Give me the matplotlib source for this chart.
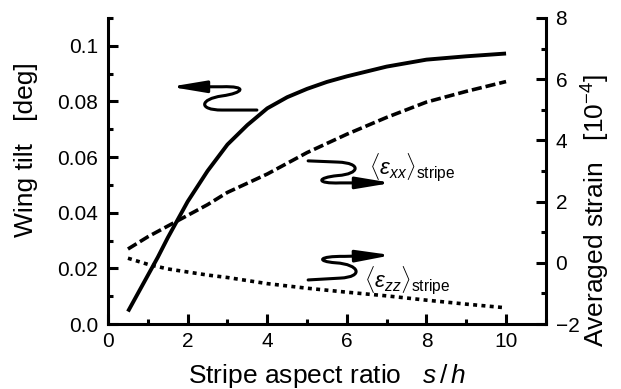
import matplotlib
matplotlib.use("Agg")
import matplotlib.pyplot as plt
from matplotlib.patches import FancyArrowPatch, ArrowStyle
from matplotlib.path import Path
from matplotlib.ticker import MultipleLocator

plt.rcParams['font.family'] = 'Liberation Sans'
plt.rcParams['mathtext.fontset'] = 'custom'
plt.rcParams['mathtext.rm'] = 'Liberation Sans'
plt.rcParams['mathtext.it'] = 'Liberation Sans:italic'
plt.rcParams['mathtext.sf'] = 'Liberation Sans'

# wing tilt (left axis, deg)
tilt_x = [0.5, 0.75, 1.0, 1.25, 1.5, 1.75, 2.0, 2.5, 3.0, 3.5, 4.0, 4.5,
          5.0, 5.5, 6.0, 7.0, 8.0, 9.0, 10.0]
tilt_y = [0.0045, 0.011, 0.0175, 0.024, 0.031, 0.0375, 0.044, 0.055, 0.0645,
          0.0715, 0.0775, 0.0815, 0.0845, 0.087, 0.089, 0.0925, 0.095, 0.0962,
          0.0972]

# averaged strains (right axis, 1e-4)
exx_x = [0.5, 1.0, 1.5, 2.0, 2.5, 3.0, 3.5, 4.0, 4.5, 5.0, 5.5, 6.0, 7.0,
         8.0, 9.0, 10.0]
exx_y = [0.45, 0.85, 1.2, 1.55, 1.9, 2.3, 2.6, 2.9, 3.25, 3.6, 3.9, 4.2,
         4.75, 5.25, 5.6, 5.92]
ezz_x = [0.5, 1.0, 1.5, 2.0, 2.5, 3.0, 4.0, 5.0, 6.0, 7.0, 8.0, 9.0, 10.0]
ezz_y = [0.15, -0.05, -0.2, -0.3, -0.4, -0.48, -0.68, -0.83, -0.96, -1.08,
         -1.22, -1.35, -1.47]

left_ticks = [0.0, 0.02, 0.04, 0.06, 0.08, 0.1]
left_labels = ['0.0', '0.02', '0.04', '0.06', '0.08', '0.1']
right_ticks = [-2, 0, 2, 4, 6, 8]
x_ticks = [0, 2, 4, 6, 8, 10]

fig = plt.figure(figsize=(6.21, 3.89), dpi=100)
ax = fig.add_axes([0.174, 0.167, 0.705, 0.787])
ax2 = ax.twinx()

ax.plot(tilt_x, tilt_y, color='black', lw=2.8, solid_capstyle='butt')
ax2.plot(exx_x, exx_y, color='black', lw=2.6, dashes=(2.8, 1.1))
ax2.plot(ezz_x, ezz_y, color='black', lw=2.6, dashes=(1.1, 1.2))

ax.set_xlim(0, 11)
ax.set_ylim(0, 0.11)
ax2.set_ylim(-2, 8)

ax.set_xticks(x_ticks)
ax.xaxis.set_minor_locator(MultipleLocator(1))
ax.set_yticks(left_ticks)
ax.set_yticklabels(left_labels)
ax.yaxis.set_minor_locator(MultipleLocator(0.01))
ax2.set_yticks(right_ticks)
ax2.yaxis.set_minor_locator(MultipleLocator(1))

for a in (ax, ax2):
    a.spines['top'].set_visible(False)
    for s in a.spines.values():
        s.set_linewidth(2.2)
ax.spines['right'].set_visible(False)
ax2.spines['left'].set_visible(False)
ax2.spines['bottom'].set_visible(False)

ax.tick_params(which='both', direction='in', top=False, right=False, width=2.2,
               labelsize=15)
ax.tick_params(which='major', length=7)
ax.tick_params(which='minor', length=3.5)
ax.tick_params(axis='y', pad=7)
ax.tick_params(axis='x', pad=6)
ax2.tick_params(which='both', direction='in', width=2.2, labelsize=15, pad=7)
ax2.tick_params(which='major', length=7)
ax2.tick_params(which='minor', length=3.5)

ax.set_xlabel(r'Stripe aspect ratio   $s\,/\,h$', fontsize=19, labelpad=8)
ax.set_ylabel('Wing tilt   [deg]', fontsize=19, labelpad=14)
ax.yaxis.label.set_y(0.57)
ax2.set_ylabel('Averaged strain   [10$^{-4}$]', fontsize=19, labelpad=0)
ax2.yaxis.label.set_y(0.37)

arrow_style = ArrowStyle('-|>', head_length=2.1, head_width=0.35)
C = Path.CURVE4
L = Path.LINETO
M = Path.MOVETO
squiggles = [
    [(0.340, 0.699), (0.260, 0.699), (0.205, 0.699), (0.210, 0.735),
     (0.260, 0.745), (0.310, 0.755), (0.320, 0.778), (0.260, 0.775),
     (0.142, 0.775)],
    [(0.457, 0.533), (0.525, 0.529), (0.580, 0.526), (0.575, 0.490),
     (0.525, 0.485), (0.475, 0.478), (0.475, 0.458), (0.530, 0.461),
     (0.648, 0.461)],
    [(0.457, 0.144), (0.530, 0.150), (0.585, 0.154), (0.575, 0.195),
     (0.520, 0.200), (0.475, 0.205), (0.480, 0.222), (0.540, 0.221),
     (0.648, 0.225)],
]
codes = [M, L, C, C, C, C, C, C, L]
for verts in squiggles:
    arr = FancyArrowPatch(path=Path(verts, codes), arrowstyle=arrow_style,
                          mutation_scale=10, lw=2.2, color='black',
                          transform=ax.transAxes, clip_on=False)
    ax.add_patch(arr)

ax.text(0.595, 0.51, r'$\langle\varepsilon_{xx}\rangle_{\mathrm{stripe}}$',
        transform=ax.transAxes, fontsize=16, va='center', ha='left')
ax.text(0.585, 0.14, r'$\langle\varepsilon_{zz}\rangle_{\mathrm{stripe}}$',
        transform=ax.transAxes, fontsize=16, va='center', ha='left')

fig.savefig('out.png', dpi=100)
